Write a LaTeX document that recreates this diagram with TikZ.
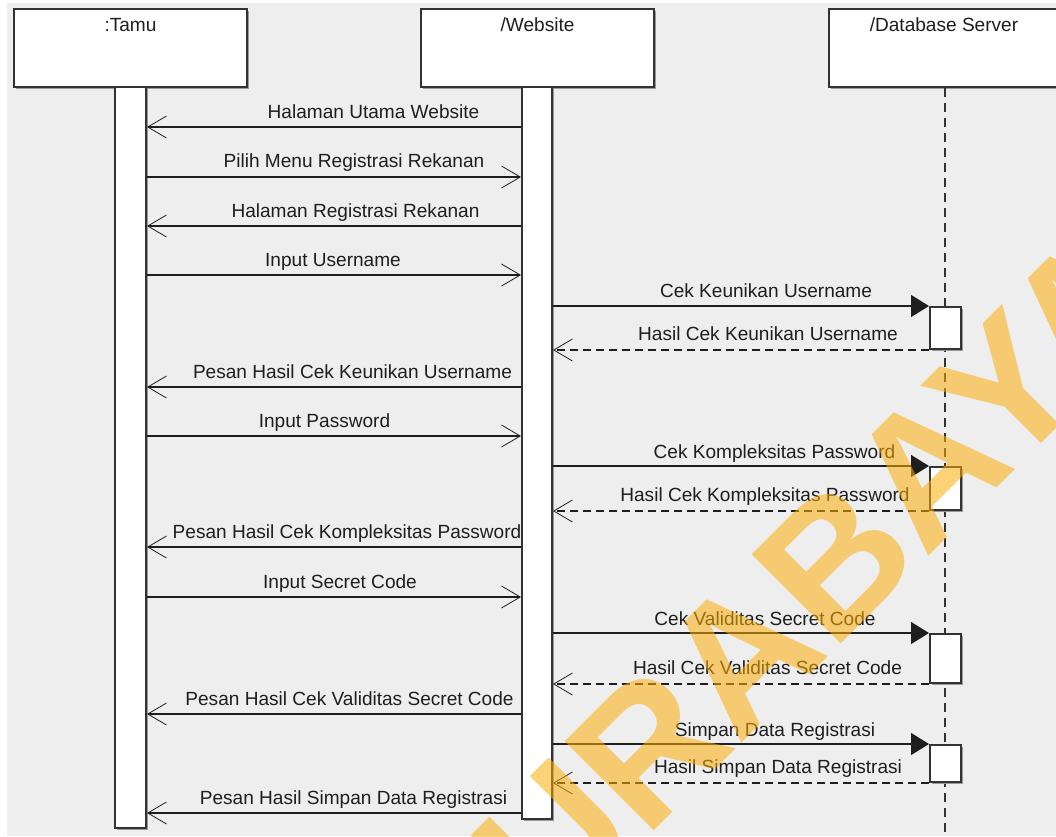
\documentclass[tikz,border=0pt]{standalone}
\usepackage{fontspec}
\setmainfont{Liberation Sans}
\usetikzlibrary{arrows.meta,shadows}

\definecolor{canvas}{HTML}{EEEEEE}
\definecolor{ink}{HTML}{1E1E1E}
\definecolor{frame}{HTML}{333333}
\definecolor{stamp}{RGB}{251,174,9}

\begin{document}
\begin{tikzpicture}[x=0.75pt,y=-0.75pt,
  lbl/.style={font=\fontsize{14.3pt}{16pt}\selectfont, text=ink, inner sep=0pt, anchor=base},
  objbox/.style={draw=frame, line width=1.5pt, fill=white, inner sep=0pt,
    drop shadow={shadow xshift=1.2pt, shadow yshift=-1.2pt, fill=black!40, opacity=1}},
  msg/.style={draw=ink, line width=0.9pt, -{Straight Barb[length=14pt,width=16.5pt,line width=0.6pt]}},
  ret/.style={msg, dash pattern=on 6pt off 3.75pt},
  call/.style={draw=ink, line width=0.9pt, -{Triangle[length=13.5pt,width=16.5pt]}},
  lifeline/.style={draw=frame, line width=1.4pt, dash pattern=on 6.75pt off 4.5pt},
]
\useasboundingbox (0,0) rectangle (1056,836);
\clip (0,0) rectangle (1056,836);
\fill[white] (0,0) rectangle (1056,836);
\fill[canvas] (7,3) rectangle (1056,836);

% participants
\node[objbox, minimum width=174.75pt, minimum height=58.5pt] (tamu) at (130.5,48) {};
\node[objbox, minimum width=174.75pt, minimum height=58.5pt] (web) at (537.5,48) {};
\node[objbox, minimum width=174.75pt, minimum height=58.5pt] (db) at (945.5,48) {};
\node[lbl] (tamuT) at (130.5,31) {:Tamu};
\node[lbl] (webT) at (537.5,31) {/Website};
\node[lbl] (dbT) at (944,31) {/Database Server};

% lifelines and activations
\coordinate (dbEnd) at (945,840);
\draw[lifeline] (db.south -| dbEnd) -- (dbEnd);
\node[objbox, minimum width=23.25pt, minimum height=555.75pt] (tamuAct) at (130.5,457.5) {};
\node[objbox, minimum width=22.5pt, minimum height=549pt] (webAct) at (537,453) {};
\node[objbox, minimum width=23.25pt, minimum height=31.5pt] (dbA1) at (945.5,328) {};
\node[objbox, minimum width=23.25pt, minimum height=32.25pt] (dbA2) at (945.5,488.5) {};
\node[objbox, minimum width=23.25pt, minimum height=36.75pt] (dbA3) at (945.5,658.5) {};
\node[objbox, minimum width=23.25pt, minimum height=27.75pt] (dbA4) at (945.5,763.5) {};

% message levels between Tamu and Website
\coordinate (m1) at (0,127);
\coordinate (m2) at (0,177);
\coordinate (m3) at (0,226);
\coordinate (m4) at (0,275);
\coordinate (m7) at (0,387);
\coordinate (m8) at (0,436);
\coordinate (m11) at (0,547);
\coordinate (m12) at (0,597);
\coordinate (m15) at (0,714);
\coordinate (m18) at (0,813);

\draw[msg] (webAct.west |- m1) -- (tamuAct.east |- m1);
\draw[msg] (tamuAct.east |- m2) -- (webAct.west |- m2);
\draw[msg] (webAct.west |- m3) -- (tamuAct.east |- m3);
\draw[msg] (tamuAct.east |- m4) -- (webAct.west |- m4);
\draw[call] (webAct.east |- dbA1.north) -- (dbA1.north west);
\draw[ret] (dbA1.south west) -- (webAct.east |- dbA1.south);
\draw[msg] (webAct.west |- m7) -- (tamuAct.east |- m7);
\draw[msg] (tamuAct.east |- m8) -- (webAct.west |- m8);
\draw[call] (webAct.east |- dbA2.north) -- (dbA2.north west);
\draw[ret] (dbA2.south west) -- (webAct.east |- dbA2.south);
\draw[msg] (webAct.west |- m11) -- (tamuAct.east |- m11);
\draw[msg] (tamuAct.east |- m12) -- (webAct.west |- m12);
\draw[call] (webAct.east |- dbA3.north) -- (dbA3.north west);
\draw[ret] (dbA3.south west) -- (webAct.east |- dbA3.south);
\draw[msg] (webAct.west |- m15) -- (tamuAct.east |- m15);
\draw[call] (webAct.east |- dbA4.north) -- (dbA4.north west);
\draw[ret] (dbA4.south west) -- (webAct.east |- dbA4.south);
\draw[msg] (webAct.west |- m18) -- (tamuAct.east |- m18);

% message labels
\node[lbl] (l1) at (373.5,118.5) {Halaman Utama Website};
\node[lbl] (l2) at (354,167.5) {Pilih Menu Registrasi Rekanan};
\node[lbl] (l3) at (355.5,217) {Halaman Registrasi Rekanan};
\node[lbl] (l4) at (333,266) {Input Username};
\node[lbl] (l5) at (766,297.5) {Cek Keunikan Username};
\node[lbl] (l6) at (768,340.5) {Hasil Cek Keunikan Username};
\node[lbl] (l7) at (352.5,378) {Pesan Hasil Cek Keunikan Username};
\node[lbl] (l8) at (324.5,427) {Input Password};
\node[lbl] (l9) at (774.5,458) {Cek Kompleksitas Password};
\node[lbl] (l10) at (765,501) {Hasil Cek Kompleksitas Password};
\node[lbl] (l11) at (347,538) {Pesan Hasil Cek Kompleksitas Password};
\node[lbl] (l12) at (340,588) {Input Secret Code};
\node[lbl] (l13) at (765,625) {Cek Validitas Secret Code};
\node[lbl] (l14) at (767.5,674) {Hasil Cek Validitas Secret Code};
\node[lbl] (l15) at (349.5,705) {Pesan Hasil Cek Validitas Secret Code};
\node[lbl] (l16) at (775,736) {Simpan Data Registrasi};
\node[lbl] (l17) at (778,773) {Hasil Simpan Data Registrasi};
\node[lbl] (l18) at (353.5,804) {Pesan Hasil Simpan Data Registrasi};

% diagonal stamp lettering
\node[rotate=45, anchor=base west, inner sep=0pt, text=stamp, text opacity=0.55,
  font=\fontsize{137.25pt}{140pt}\selectfont\bfseries] (stampText) at (465.6,1019.4) {SURABAYA};
\end{tikzpicture}
\end{document}
